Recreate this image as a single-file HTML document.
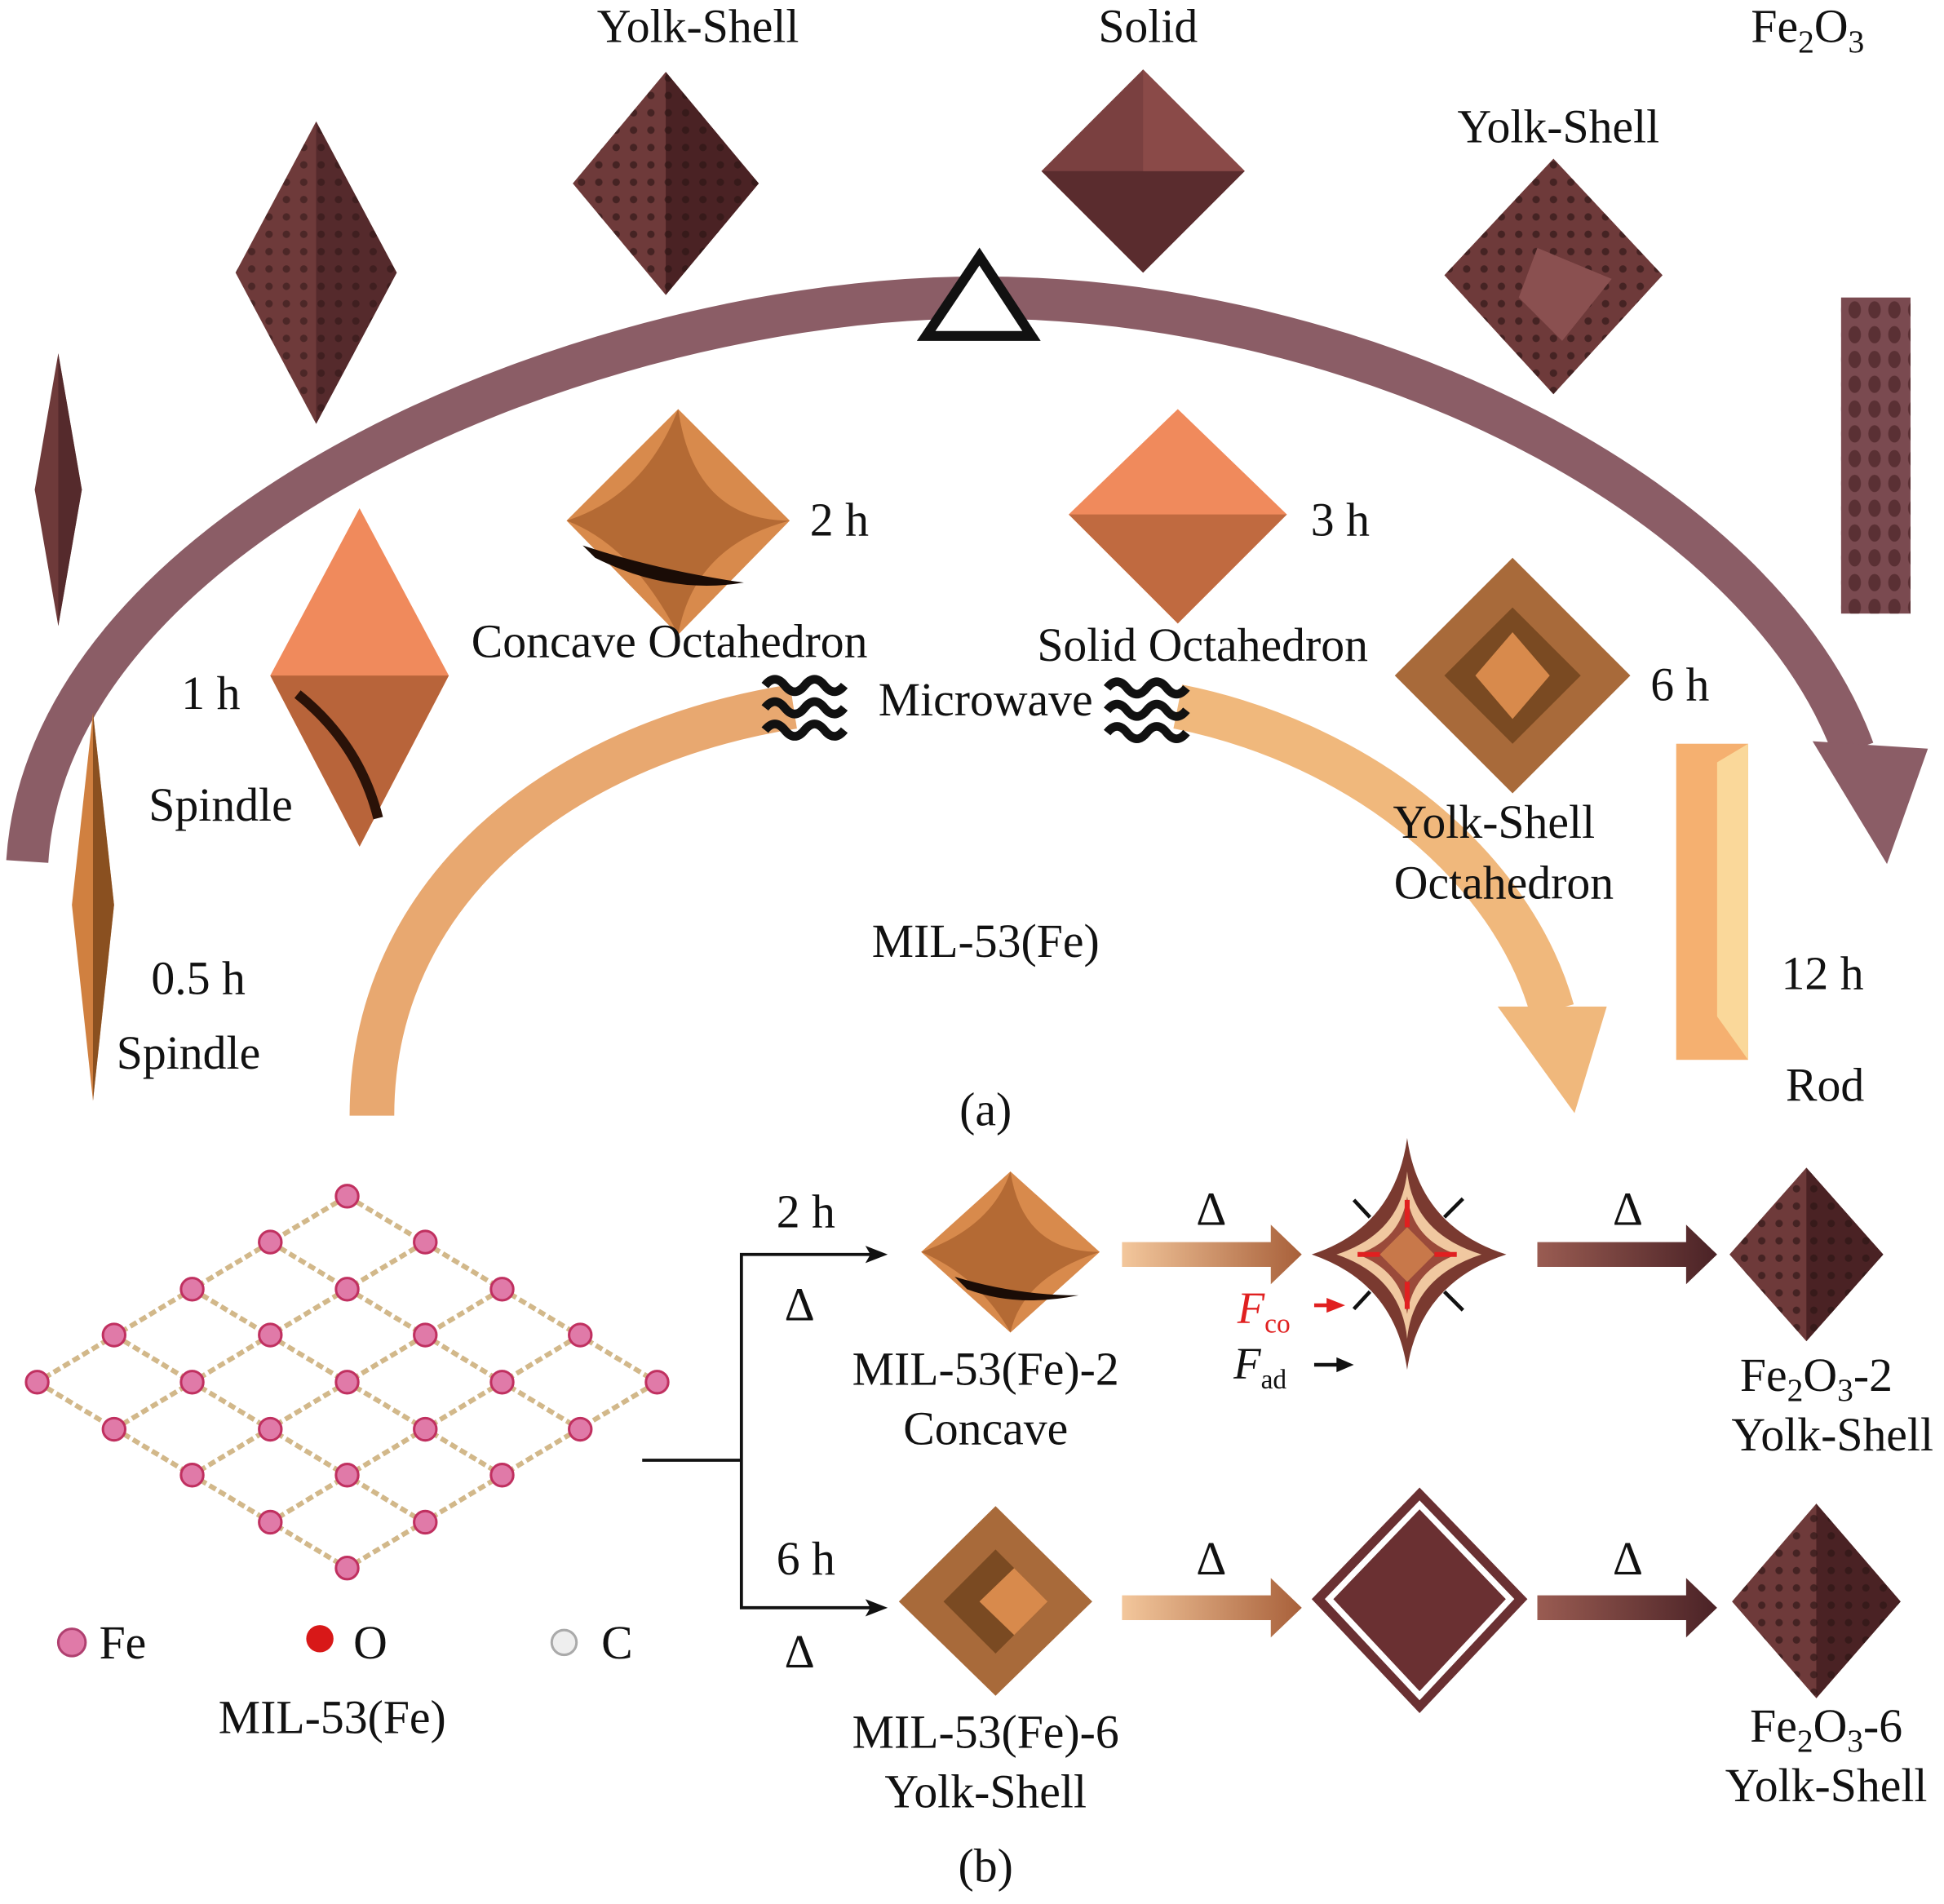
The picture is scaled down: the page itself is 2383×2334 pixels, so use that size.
<!DOCTYPE html>
<html><head><meta charset="utf-8"><style>
html,body{margin:0;padding:0;background:#fff;}
svg{display:block;}
text{font-family:"Liberation Serif",serif;fill:#111;}
</style></head><body>
<svg width="2383" height="2334" viewBox="0 0 1568 1536" preserveAspectRatio="none" xmlns="http://www.w3.org/2000/svg">
<defs>
<linearGradient id="ga" x1="0" x2="1"><stop offset="0" stop-color="#f3c79c"/><stop offset="1" stop-color="#a8603a"/></linearGradient>
<linearGradient id="gb" x1="0" x2="1"><stop offset="0" stop-color="#9a5c52"/><stop offset="1" stop-color="#4a2226"/></linearGradient>
<pattern id="dots" width="14" height="14" patternUnits="userSpaceOnUse"><circle cx="7" cy="7" r="3" fill="#2a1414"/></pattern>
<pattern id="rdots" width="16" height="20" patternUnits="userSpaceOnUse"><ellipse cx="8" cy="10" rx="5" ry="7" fill="#5a3034"/></pattern>
</defs>
<rect width="1568" height="1536" fill="#fff"/>

<!-- big arc -->
<path d="M22 695 C40 420 480 240 790 240 C1100 240 1420 400 1495 605" fill="none" stroke="#8b5d66" stroke-width="34"/>
<polygon points="1462,598 1555,604 1522,697" fill="#8b5d66"/>
<polygon points="790,207 747,271 832,271" fill="#fff" stroke="#111" stroke-width="8"/>

<!-- orange arcs -->
<path d="M300 900 C300 720 450 600 640 570" fill="none" stroke="#e8a870" stroke-width="36"/>
<path d="M950 570 C1100 600 1220 700 1252 815" fill="none" stroke="#f0b87c" stroke-width="36"/>
<polygon points="1208,812 1296,812 1270,898" fill="#f0b87c"/>

<!-- microwave waves -->
<g fill="none" stroke="#111" stroke-width="7">
<path d="M617 553 q8 -10 16 0 q8 10 16 0 q8 -10 16 0 q8 10 16 0"/>
<path d="M617 571 q8 -10 16 0 q8 10 16 0 q8 -10 16 0 q8 10 16 0"/>
<path d="M617 589 q8 -10 16 0 q8 10 16 0 q8 -10 16 0 q8 10 16 0"/>
<path d="M893 555 q8 -10 16 0 q8 10 16 0 q8 -10 16 0 q8 10 16 0"/>
<path d="M893 573 q8 -10 16 0 q8 10 16 0 q8 -10 16 0 q8 10 16 0"/>
<path d="M893 591 q8 -10 16 0 q8 10 16 0 q8 -10 16 0 q8 10 16 0"/>
</g>

<!-- top dark shapes -->
<g>
<polygon points="255,98 320,220 255,342 190,220" fill="#6e3a3a"/>
<polygon points="255,98 320,220 255,342" fill="#552a2c"/>
<polygon points="255,98 320,220 255,342 190,220" fill="url(#dots)" opacity="0.5"/>
<polygon points="537,58 612,148 537,238 462,148" fill="#6e3a3a"/>
<polygon points="537,58 612,148 537,238 537,148" fill="#4a2224"/>
<polygon points="537,58 612,148 537,238 462,148" fill="url(#dots)" opacity="0.6"/>
<polygon points="922,56 1004,138 922,220 840,138" fill="#7a4040"/>
<polygon points="840,138 1004,138 922,220" fill="#5a2c2e"/>
<polygon points="922,56 1004,138 922,138" fill="#8a4a48"/>
<polygon points="1253,128 1341,222 1253,318 1165,222" fill="#6e3a3a"/>
<polygon points="1253,128 1341,222 1253,318 1165,222" fill="url(#dots)" opacity="0.6"/>
<polygon points="1240,200 1300,225 1260,275 1225,240" fill="#8a5050"/>
<polygon points="47,285 66,395 47,505 28,395" fill="#6e3a3a"/>
<polygon points="47,285 66,395 47,505" fill="#552a2c"/>
<rect x="1485" y="240" width="56" height="255" fill="#7a4a50"/>
<rect x="1485" y="240" width="56" height="255" fill="url(#rdots)"/>
</g>

<!-- orange shapes -->
<g>
<polygon points="547,330 637,420 547,512 457,420" fill="#d88a4c"/>
<path d="M457 420 Q520 400 547 330 Q560 420 637 420 Q560 440 547 512 Q510 440 457 420Z" fill="#b46a34"/>
<path d="M470 440 Q530 460 600 470 Q540 480 480 450Z" fill="#1a0c06"/>
<polygon points="950,330 1038,415 950,503 862,415" fill="#f08a5c"/>
<polygon points="862,415 1038,415 950,503" fill="#c06a40"/>
<polygon points="950,330 1038,415 1030,465 950,503 870,465 862,415" fill="none"/>
<polygon points="290,410 362,545 290,683 218,545" fill="#f08a5c"/>
<polygon points="218,545 362,545 290,683" fill="#b8643a"/>
<path d="M240 560 Q290 600 305 660" stroke="#2a1208" stroke-width="8" fill="none"/>
<polygon points="1220,450 1315,545 1220,640 1125,545" fill="#a86a3a"/>
<polygon points="1220,490 1275,545 1220,600 1165,545" fill="#7a4a22"/>
<polygon points="1220,510 1250,545 1220,580 1190,545" fill="#d88a4c"/>
<polygon points="75,575 92,730 75,888 58,730" fill="#d08040"/>
<polygon points="75,575 92,730 75,888" fill="#8a5020"/>
<rect x="1352" y="600" width="58" height="255" fill="#f5b070"/>
<polygon points="1385,615 1410,600 1410,855 1385,820" fill="#fad89a"/>
</g>

<!-- part a text -->
<g font-size="38" text-anchor="middle">
<text x="563" y="34">Yolk-Shell</text>
<text x="926" y="34">Solid</text>
<text x="1458" y="34">Fe<tspan font-size="26" dy="8">2</tspan><tspan dy="-8">O</tspan><tspan font-size="26" dy="8">3</tspan></text>
<text x="1257" y="115">Yolk-Shell</text>
<text x="677" y="432">2 h</text>
<text x="1081" y="432">3 h</text>
<text x="540" y="530">Concave Octahedron</text>
<text x="970" y="533">Solid Octahedron</text>
<text x="795" y="577">Microwave</text>
<text x="170" y="572">1 h</text>
<text x="1355" y="565">6 h</text>
<text x="178" y="662">Spindle</text>
<text x="1205" y="676">Yolk-Shell</text>
<text x="1213" y="725">Octahedron</text>
<text x="795" y="772">MIL-53(Fe)</text>
<text x="160" y="802">0.5 h</text>
<text x="1470" y="798">12 h</text>
<text x="152" y="862">Spindle</text>
<text x="1472" y="888">Rod</text>
<text x="795" y="908">(a)</text>
</g>

<!-- lattice -->
<g stroke="#d2b88a" stroke-width="4" stroke-dasharray="6 3">
<line x1="280" y1="965" x2="530" y2="1115"/><line x1="218" y1="1002" x2="468" y2="1153"/><line x1="155" y1="1040" x2="405" y2="1190"/><line x1="92" y1="1077" x2="342" y2="1228"/><line x1="30" y1="1115" x2="280" y2="1265"/>
<line x1="280" y1="965" x2="30" y2="1115"/><line x1="343" y1="1002" x2="92" y2="1153"/><line x1="405" y1="1040" x2="155" y2="1190"/><line x1="468" y1="1077" x2="218" y2="1228"/><line x1="530" y1="1115" x2="280" y2="1265"/>
</g>
<g fill="#e07aa8" stroke="#c03060" stroke-width="2">
<circle cx="280" cy="965" r="9"/><circle cx="343" cy="1002" r="9"/><circle cx="405" cy="1040" r="9"/><circle cx="468" cy="1077" r="9"/><circle cx="530" cy="1115" r="9"/>
<circle cx="218" cy="1002" r="9"/><circle cx="280" cy="1040" r="9"/><circle cx="343" cy="1077" r="9"/><circle cx="405" cy="1115" r="9"/><circle cx="468" cy="1153" r="9"/>
<circle cx="155" cy="1040" r="9"/><circle cx="218" cy="1077" r="9"/><circle cx="280" cy="1115" r="9"/><circle cx="343" cy="1153" r="9"/><circle cx="405" cy="1190" r="9"/>
<circle cx="92" cy="1077" r="9"/><circle cx="155" cy="1115" r="9"/><circle cx="218" cy="1153" r="9"/><circle cx="280" cy="1190" r="9"/><circle cx="343" cy="1228" r="9"/>
<circle cx="30" cy="1115" r="9"/><circle cx="92" cy="1153" r="9"/><circle cx="155" cy="1190" r="9"/><circle cx="218" cy="1228" r="9"/><circle cx="280" cy="1265" r="9"/>
</g>
<circle cx="58" cy="1325" r="11" fill="#e07aa8" stroke="#b04070" stroke-width="2"/>
<circle cx="258" cy="1322" r="11" fill="#d81818"/>
<circle cx="455" cy="1325" r="10" fill="#eee" stroke="#aaa" stroke-width="2"/>
<g font-size="38">
<text x="80" y="1338">Fe</text><text x="285" y="1338">O</text><text x="485" y="1338">C</text>
<text x="268" y="1398" text-anchor="middle">MIL-53(Fe)</text>
</g>

<!-- connectors -->
<g stroke="#111" stroke-width="2.5" fill="none">
<polyline points="518,1178 598,1178"/>
<polyline points="705,1012 598,1012 598,1297 705,1297"/>
</g>
<polygon points="716,1012 698,1005 702,1012 698,1019" fill="#111"/>
<polygon points="716,1297 698,1290 702,1297 698,1304" fill="#111"/>

<!-- row 1 -->
<polygon points="815,945 887,1010 815,1075 743,1010" fill="#d88a4c"/>
<path d="M743 1010 Q800 990 815 945 Q825 1010 887 1010 Q825 1030 815 1075 Q790 1030 743 1010Z" fill="#b46a34"/>
<path d="M770 1030 Q820 1045 870 1045 Q820 1055 780 1040Z" fill="#1a0c06"/>
<polygon points="905,1002 1025,1002 1025,988 1050,1012 1025,1036 1025,1022 905,1022" fill="url(#ga)"/>
<polygon points="1240,1002 1360,1002 1360,988 1385,1012 1360,1036 1360,1022 1240,1022" fill="url(#gb)"/>
<path d="M1135 918 Q1145 990 1215 1012 Q1145 1035 1135 1105 Q1125 1035 1058 1012 Q1125 990 1135 918Z" fill="#7a3a30"/>
<path d="M1135 945 Q1140 995 1195 1012 Q1140 1030 1135 1080 Q1130 1030 1078 1012 Q1130 995 1135 945Z" fill="#f0c8a0"/>
<path d="M1135 965 Q1140 1000 1175 1012 Q1140 1025 1135 1060 Q1130 1025 1095 1012 Q1130 1000 1135 965Z" fill="#9a4a3a"/>
<polygon points="1135,990 1157,1012 1135,1034 1113,1012" fill="#c8784a"/>
<g stroke="#e02020" stroke-width="4"><line x1="1135" y1="968" x2="1135" y2="990"/><line x1="1135" y1="1056" x2="1135" y2="1034"/><line x1="1095" y1="1012" x2="1113" y2="1012"/><line x1="1175" y1="1012" x2="1157" y2="1012"/></g>
<g stroke="#111" stroke-width="3"><line x1="1105" y1="982" x2="1092" y2="968"/><line x1="1165" y1="982" x2="1180" y2="967"/><line x1="1105" y1="1042" x2="1092" y2="1056"/><line x1="1165" y1="1042" x2="1180" y2="1057"/></g>
<line x1="1060" y1="1053" x2="1080" y2="1053" stroke="#e02020" stroke-width="3"/>
<polygon points="1085,1053 1070,1047 1070,1059" fill="#e02020"/>
<line x1="1060" y1="1101" x2="1085" y2="1101" stroke="#111" stroke-width="3"/>
<polygon points="1092,1101 1078,1095 1078,1107" fill="#111"/>
<polygon points="1457,942 1519,1012 1457,1082 1395,1012" fill="#6e3a3a"/>
<polygon points="1457,942 1519,1012 1457,1082 1457,1012" fill="#4a2224"/>
<polygon points="1457,942 1519,1012 1457,1082 1395,1012" fill="url(#dots)" opacity="0.6"/>

<!-- row 2 -->
<polygon points="803,1215 881,1292 803,1368 725,1292" fill="#a86a3a"/>
<polygon points="803,1250 845,1292 803,1334 761,1292" fill="#7a4a22"/>
<polygon points="818,1265 845,1292 818,1319 790,1292" fill="#d88a4c"/>
<polygon points="905,1287 1025,1287 1025,1273 1050,1297 1025,1321 1025,1307 905,1307" fill="url(#ga)"/>
<polygon points="1240,1287 1360,1287 1360,1273 1385,1297 1360,1321 1360,1307 1240,1307" fill="url(#gb)"/>
<polygon points="1145,1200 1232,1290 1145,1382 1058,1290" fill="#6a3032"/>
<polygon points="1145,1214 1218,1290 1145,1368 1072,1290" fill="none" stroke="#fff" stroke-width="5"/>
<polygon points="1465,1213 1533,1292 1465,1370 1397,1292" fill="#6e3a3a"/>
<polygon points="1465,1213 1533,1292 1465,1370 1465,1292" fill="#4a2224"/>
<polygon points="1465,1213 1533,1292 1465,1370 1397,1292" fill="url(#dots)" opacity="0.6"/>

<!-- part b text -->
<g font-size="38" text-anchor="middle">
<text x="650" y="990">2 h</text>
<text x="645" y="1065">Δ</text>
<text x="977" y="988">Δ</text>
<text x="1313" y="988">Δ</text>
<text x="795" y="1117">MIL-53(Fe)-2</text>
<text x="795" y="1165">Concave</text>
<text x="1465" y="1122">Fe<tspan font-size="26" dy="8">2</tspan><tspan dy="-8">O</tspan><tspan font-size="26" dy="8">3</tspan><tspan dy="-8">-2</tspan></text>
<text x="1478" y="1170">Yolk-Shell</text>
<text x="650" y="1270">6 h</text>
<text x="645" y="1345">Δ</text>
<text x="977" y="1270">Δ</text>
<text x="1313" y="1270">Δ</text>
<text x="795" y="1410">MIL-53(Fe)-6</text>
<text x="795" y="1458">Yolk-Shell</text>
<text x="1473" y="1405">Fe<tspan font-size="26" dy="8">2</tspan><tspan dy="-8">O</tspan><tspan font-size="26" dy="8">3</tspan><tspan dy="-8">-6</tspan></text>
<text x="1473" y="1453">Yolk-Shell</text>
<text x="795" y="1518">(b)</text>
</g>
<text x="998" y="1067" font-size="36" font-style="italic" fill="#e02020" style="fill:#e02020">F<tspan font-size="22" dy="8" font-style="normal">co</tspan></text>
<text x="995" y="1112" font-size="36" font-style="italic">F<tspan font-size="22" dy="8" font-style="normal">ad</tspan></text>
</svg>
</body></html>
